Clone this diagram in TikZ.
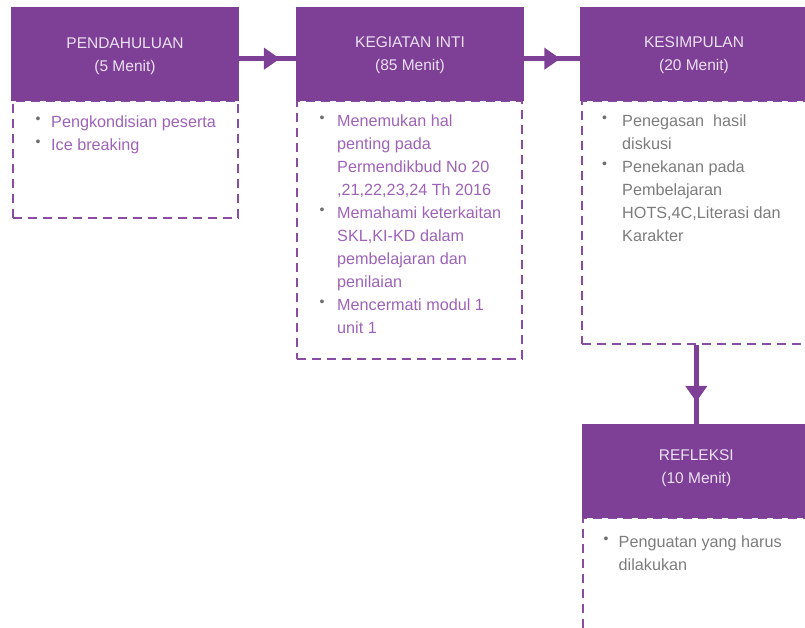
\documentclass[tikz,border=0pt]{standalone}
\usepackage{fontspec}
\setmainfont{Liberation Sans}
\usetikzlibrary{arrows.meta,decorations.markings}

\definecolor{plum}{HTML}{7E3F97}
\definecolor{plumline}{HTML}{8A4BA2}
\definecolor{headtext}{HTML}{EBE0F1}
\definecolor{itempurple}{HTML}{9E62B8}
\definecolor{itemgray}{HTML}{7C7C7C}
\definecolor{dotgray}{HTML}{6E6E6E}

% bullet in a box of the given width, and the indent of a continued line
\newcommand{\bul}[1]{\strut\makebox[#1][l]{\raisebox{4pt}{\fontsize{14}{14}\selectfont\textcolor{dotgray}{•}}}}
\newcommand{\cont}[1]{\strut\hspace*{#1}}

\tikzset{
  head/.style={rectangle, fill=plum, minimum width=228pt, minimum height=94pt, inner sep=0pt},
  headlabel/.style={anchor=north, inner sep=0pt, align=center, text=headtext,
    font=\fontsize{15.5}{23}\selectfont},
  body/.style={rectangle, draw=plumline, line width=2.2pt, dash pattern=on 9pt off 6pt, inner sep=0pt},
  items/.style={anchor=north west, inner sep=0pt, align=left,
    font=\fontsize{16.2}{23}\selectfont},
  conn/.style={draw=plum, line width=4.5pt, postaction={decorate},
    decoration={markings, mark=at position #1 with {\arrow[plum]{Triangle[length=16pt,width=21pt]}}}},
  conn/.default=0.7
}

\begin{document}
\begin{tikzpicture}[x=1pt, y=-1pt]
\useasboundingbox (0,0) rectangle (805,628);
\clip (0,0) rectangle (805,628);

% dashed bodies below the headers
\node[body, minimum width=225pt, minimum height=117pt] (b1) at (125.8,159.8) {};
\node[body, minimum width=225pt, minimum height=258pt] (b2) at (409.8,230.3) {};
\node[body, minimum width=226pt, minimum height=243pt] (b3) at (694.7,222.5) {};
\node[body, minimum width=226pt, minimum height=182pt] (b4) at (696.3,609) {};

% headers
\node[head] (h1) at (125,54.2) {};
\node[head] (h2) at (410,54.2) {};
\node[head] (h3) at (694,54.2) {};
\node[head] (h4) at (696.3,471.2) {};

\node[headlabel] (t1) at (125,32.5) {\strut PENDAHULUAN\\(5 Menit)};
\node[headlabel] (t2) at (410,30.8) {\strut KEGIATAN INTI\\(85 Menit)};
\node[headlabel] (t3) at (694,30.8) {\strut KESIMPULAN\\(20 Menit)};
\node[headlabel] (t4) at (696.3,444) {\strut REFLEKSI\\(10 Menit)};

% item lists
\node[items, text=itempurple] (l1) at (35.3,111) {%
  \bul{15.7pt}Pengkondisian peserta\\
  \bul{15.7pt}Ice breaking};
\node[items, text=itempurple] (l2) at (319.3,110.4) {%
  \bul{17.7pt}Menemukan hal\\
  \cont{17.7pt}penting pada\\
  \cont{17.7pt}Permendikbud No 20\\
  \cont{17.7pt},21,22,23,24 Th 2016\\
  \bul{17.7pt}Memahami keterkaitan\\
  \cont{17.7pt}SKL,KI-KD dalam\\
  \cont{17.7pt}pembelajaran dan\\
  \cont{17.7pt}penilaian\\
  \bul{17.7pt}Mencermati modul 1\\
  \cont{17.7pt}unit 1};
\node[items, text=itemgray] (l3) at (601.8,110) {%
  \bul{20.2pt}Penegasan\ \ hasil\\
  \cont{20.2pt}diskusi\\
  \bul{20.2pt}Penekanan pada\\
  \cont{20.2pt}Pembelajaran\\
  \cont{20.2pt}HOTS,4C,Literasi dan\\
  \cont{20.2pt}Karakter};
\node[items, text=itemgray] (l4) at (603.3,530.8) {%
  \bul{15.2pt}Penguatan yang harus\\
  \cont{15.2pt}dilakukan};

% connectors
\draw[conn=0.72] ([yshift=-4.5pt]h1.east) -- ([yshift=-4.5pt]h2.west);
\draw[conn=0.65] ([yshift=-4.5pt]h2.east) -- ([yshift=-4.5pt]h3.west);
\draw[conn=0.72] (b3.south -| h4.north) -- (h4.north);
\end{tikzpicture}
\end{document}
